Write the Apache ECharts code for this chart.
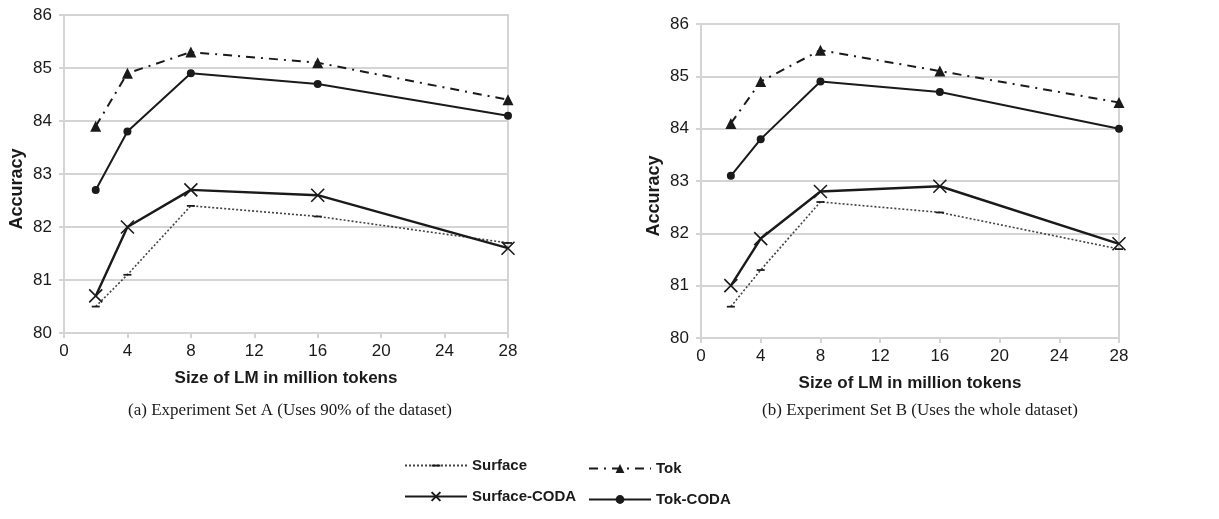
<!DOCTYPE html>
<html><head><meta charset="utf-8">
<script src="https://cdn.jsdelivr.net/npm/echarts@6/dist/echarts.min.js"></script>
<style>html,body{margin:0;padding:0;background:#fff}#c{width:1219px;height:519px}</style>
</head><body><div id="c"></div>
<script>
// Data
const lmSizes = [2, 4, 8, 16, 28];
const xTicksMax = 28;
// Experiment Set A
const surfaceA     = [80.5, 81.1, 82.4, 82.2, 81.7];
const surfaceCodaA = [80.7, 82.0, 82.7, 82.6, 81.6];
const tokA         = [83.9, 84.9, 85.3, 85.1, 84.4];
const tokCodaA     = [82.7, 83.8, 84.9, 84.7, 84.1];
// Experiment Set B
const surfaceB     = [80.6, 81.3, 82.6, 82.4, 81.7];
const surfaceCodaB = [81.0, 81.9, 82.8, 82.9, 81.8];
const tokB         = [84.1, 84.9, 85.5, 85.1, 84.5];
const tokCodaB     = [83.1, 83.8, 84.9, 84.7, 84.0];
const captions = ['(a) Experiment Set A (Uses 90% of the dataset)', '(b) Experiment Set B (Uses the whole dataset)'];
const xName = 'Size of LM in million tokens';
const yName = 'Accuracy';

const pairs = (ys) => lmSizes.map((x, i) => [x, ys[i]]);
const SANS = '"Liberation Sans", Arial, sans-serif';
const INK = '#1a1a1a';
const GRIDC = '#d4d4d4';
const xPath = 'path://M0,0L10,10M10,0L0,10';
const dashPath = 'path://M0,0M0,4L10,4L10,6.2L0,6.2ZM10,10';

function mkSeries(name, data, idx) {
  const base = {name, type: 'line', data: pairs(data), xAxisIndex: idx, yAxisIndex: idx, animation: false, z: 3};
  if (name === 'Surface') return Object.assign(base, {
    symbol: dashPath, symbolSize: 8, itemStyle: {color: INK},
    lineStyle: {color: '#444', width: 1.6, type: [2, 2]}});
  if (name === 'Surface-CODA') return Object.assign(base, {
    symbol: xPath, symbolSize: 13, itemStyle: {color: 'none', borderColor: INK, borderWidth: 1.6},
    lineStyle: {color: INK, width: 2.4}});
  if (name === 'Tok') return Object.assign(base, {
    symbol: 'triangle', symbolSize: 11, itemStyle: {color: INK},
    lineStyle: {color: INK, width: 2, type: [9, 6, 2, 6]}});
  return Object.assign(base, {
    symbol: 'circle', symbolSize: 8, itemStyle: {color: INK},
    lineStyle: {color: INK, width: 2}});
}

function xAx(idx) {
  return {gridIndex: idx, type: 'value', min: 0, max: xTicksMax, interval: 4,
    name: xName, nameLocation: 'middle', nameGap: 37,
    nameTextStyle: {fontFamily: SANS, fontWeight: 'bold', fontSize: 17, color: INK},
    axisLine: {show: true, lineStyle: {color: GRIDC, width: 2}},
    axisTick: {show: true, length: 5, lineStyle: {color: GRIDC, width: 2}},
    axisLabel: {fontFamily: SANS, fontSize: 17, color: INK, margin: 10},
    splitLine: {show: false}};
}
function yAx(idx) {
  return {gridIndex: idx, type: 'value', min: 80, max: 86, interval: 1,
    name: yName, nameLocation: 'middle', nameGap: 38, nameRotate: 90,
    nameTextStyle: {fontFamily: SANS, fontWeight: 'bold', fontSize: 18, color: INK, padding: [0, 30, 0, 0]},
    axisLine: {show: true, lineStyle: {color: GRIDC, width: 2}},
    axisTick: {show: true, length: 5, lineStyle: {color: GRIDC, width: 2}},
    axisLabel: {fontFamily: SANS, fontSize: 17, color: INK, margin: 12},
    splitLine: {show: true, lineStyle: {color: GRIDC, width: 2}}};
}

const legendText = {fontFamily: SANS, fontWeight: 'bold', fontSize: 15, color: INK};
const chart = echarts.init(document.getElementById('c'), null, {renderer: 'canvas'});
chart.setOption({
  backgroundColor: '#fff',
  animation: false,
  grid: [
    {left: 64, right: 711, top: 15, bottom: 186, show: true, borderColor: GRIDC, borderWidth: 2, backgroundColor: '#fff'},
    {left: 701, right: 100, top: 24, bottom: 181, show: true, borderColor: GRIDC, borderWidth: 2, backgroundColor: '#fff'}
  ],
  xAxis: [xAx(0), xAx(1)],
  yAxis: [yAx(0), yAx(1)],
  title: [
    {text: captions[0], left: 285, top: 397, textAlign: 'center',
     textStyle: {fontFamily: '"Liberation Serif", "Times New Roman", serif', fontWeight: 'normal', fontSize: 17, color: INK}},
    {text: captions[1], left: 915, top: 397, textAlign: 'center',
     textStyle: {fontFamily: '"Liberation Serif", "Times New Roman", serif', fontWeight: 'normal', fontSize: 17, color: INK}}
  ],
  legend: [
    {data: ['Surface', 'Surface-CODA'], orient: 'vertical', left: 404, top: 458, padding: 0, itemWidth: 62, itemHeight: 11, itemGap: 16,
     textStyle: legendText, selectedMode: false},
    {data: ['Tok', 'Tok-CODA'], orient: 'vertical', left: 588, top: 461, padding: 0, itemWidth: 62, itemHeight: 11, itemGap: 16,
     textStyle: legendText, selectedMode: false}
  ],
  series: [
    mkSeries('Surface', surfaceA, 0), mkSeries('Surface-CODA', surfaceCodaA, 0),
    mkSeries('Tok', tokA, 0), mkSeries('Tok-CODA', tokCodaA, 0),
    mkSeries('Surface', surfaceB, 1), mkSeries('Surface-CODA', surfaceCodaB, 1),
    mkSeries('Tok', tokB, 1), mkSeries('Tok-CODA', tokCodaB, 1)
  ]
});
</script></body></html>
